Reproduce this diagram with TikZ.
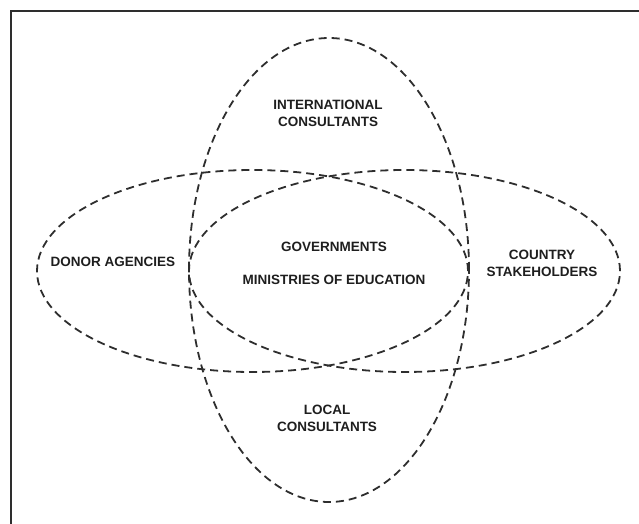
\documentclass[tikz,border=0pt]{standalone}
\usepackage{fontspec}
\setmainfont{Liberation Sans}
\usetikzlibrary{shapes.geometric}
\definecolor{ink}{HTML}{2E2E2E}
\definecolor{txt}{HTML}{1E1E1E}
\begin{document}
\begin{tikzpicture}[x=1pt,y=-1pt,
  ring/.style={ellipse, draw=ink, line width=1.8pt, dash pattern=on 8pt off 5pt, inner sep=0pt},
  lbl/.style={text=txt, font=\fontsize{13.5}{17}\selectfont\bfseries, align=center, inner sep=0pt}]
\useasboundingbox (0,0) rectangle (639,524);
% frame (top and left edges visible)
\coordinate (fa) at (11,524);
\coordinate (fb) at (11,11);
\coordinate (fc) at (639,11);
\draw[line width=2.6pt, draw=ink] (fa) -- (fb) -- (fc);
% ellipses
\node[ring, minimum width=280pt, minimum height=464pt] (vert) at (329,270) {};
\node[ring, minimum width=431pt, minimum height=202pt] (donor) at (252.5,271) {};
\node[ring, minimum width=431pt, minimum height=202pt] (country) at (404.5,271) {};
% labels
\node[lbl] (intl) at (328,113.5) {INTERNATIONAL\\CONSULTANTS};
\node[lbl] (gov) at (334,247) {GOVERNMENTS};
\node[lbl] (moe) at (334,280) {MINISTRIES OF EDUCATION};
\node[lbl] (don) at (113,262) {DONOR AGENCIES};
\node[lbl] (cs) at (542,263.5) {COUNTRY\\STAKEHOLDERS};
\node[lbl] (loc) at (327,418.5) {LOCAL\\CONSULTANTS};
\end{tikzpicture}
\end{document}
